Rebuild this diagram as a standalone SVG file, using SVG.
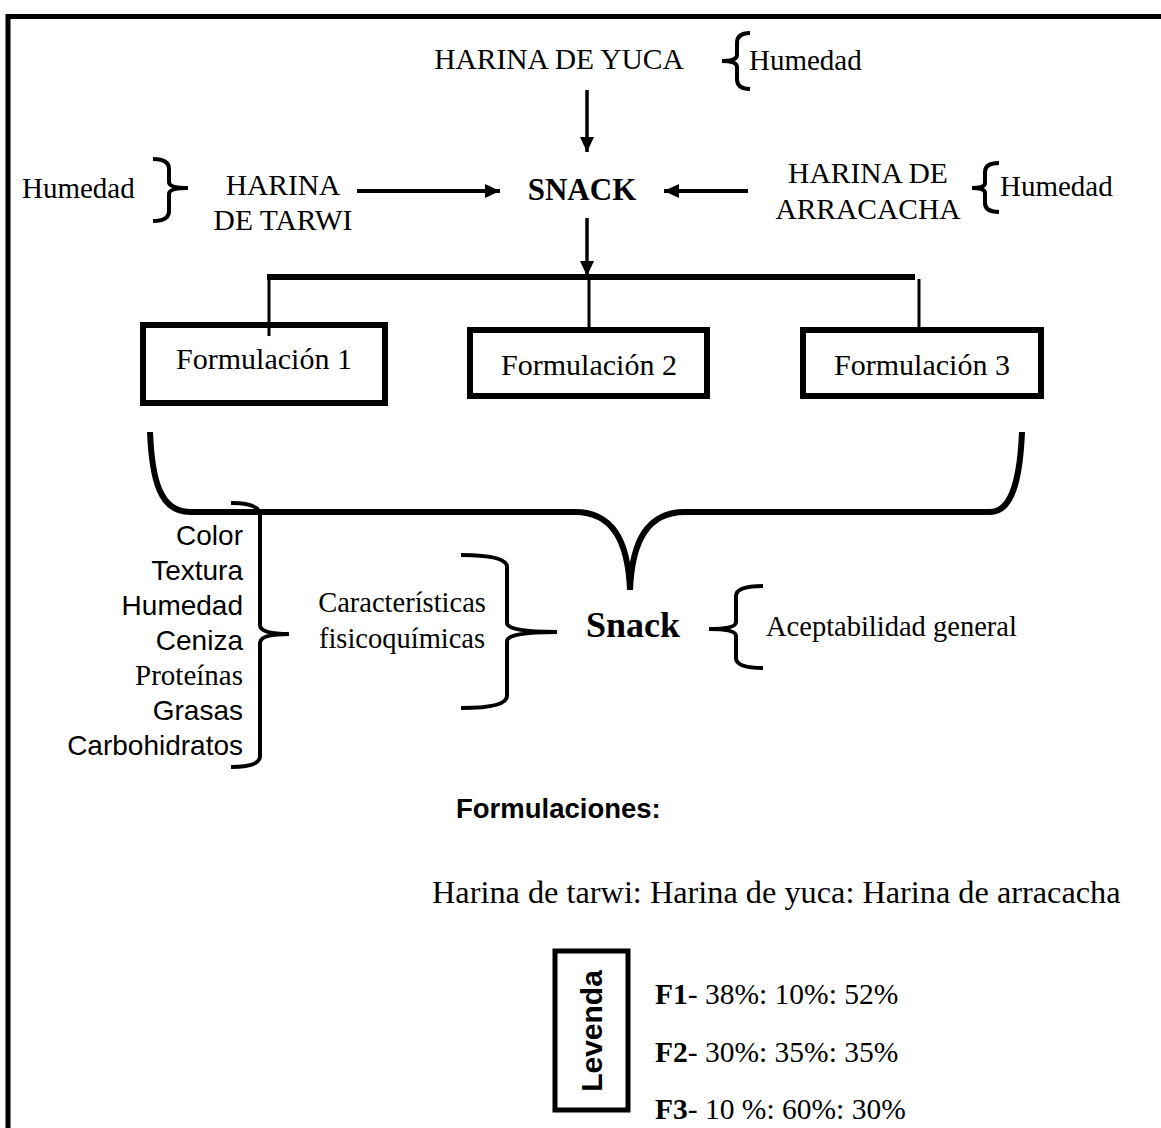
<svg xmlns="http://www.w3.org/2000/svg" width="1161" height="1128" viewBox="0 0 1161 1128">
<defs>
<style>
.t{font-family:"Liberation Serif","Times New Roman",serif;fill:#000}
.a{font-family:"Liberation Sans",Arial,sans-serif;fill:#000}
.ln{stroke:#000;fill:none}
.box{fill:#fff;stroke:#000;stroke-width:6}
</style>
<marker id="ah" markerWidth="15" markerHeight="14" refX="15" refY="7" orient="auto" markerUnits="userSpaceOnUse">
<path d="M0,0 L15,7 L0,14 Z" fill="#000"/>
</marker>
</defs>
<rect width="1161" height="1128" fill="#fff"/>
<g id="frame">
<path class="ln" d="M8,1128 L8,16.5 L1161,16.5" stroke-width="5"/>
</g>
<g id="yuca">
<text class="t" x="559" y="69" font-size="29.5" text-anchor="middle">HARINA DE YUCA</text>
<path class="ln" stroke-width="4" d="M750,33 Q737,33 737,43 L737,55 Q737,61 722,61 Q737,61 737,67 L737,79 Q737,89 750,89"/>
<text class="t" x="749" y="70" font-size="29">Humedad</text>
</g>
<g id="tarwi">
<text class="t" x="22" y="198" font-size="29">Humedad</text>
<path class="ln" stroke-width="4" d="M153,159 Q169,159 169,169 L169,182 Q169,188 188,188 Q169,188 169,194 L169,211 Q169,221 153,221"/>
<text class="t" x="283" y="195" font-size="29.5" text-anchor="middle">HARINA</text>
<text class="t" x="283" y="230" font-size="29.5" text-anchor="middle">DE TARWI</text>
</g>
<g id="snack-top">
<text class="t" x="582" y="200" font-size="31" font-weight="bold" text-anchor="middle">SNACK</text>
</g>
<g id="arracacha">
<text class="t" x="868" y="183" font-size="29.5" text-anchor="middle">HARINA DE</text>
<text class="t" x="868" y="219" font-size="29.5" text-anchor="middle">ARRACACHA</text>
<path class="ln" stroke-width="4" d="M999,163 Q985,163 985,172 L985,183 Q985,188 972,188 Q985,188 985,193 L985,203 Q985,212 999,212"/>
<text class="t" x="1000" y="196" font-size="29">Humedad</text>
</g>
<g id="f1"><rect class="box" x="143" y="325" width="242" height="78"/><text class="t" x="264" y="369" font-size="30" text-anchor="middle">Formulación 1</text></g>
<g id="f2"><rect class="box" x="470" y="330" width="237" height="66"/><text class="t" x="589" y="375" font-size="30" text-anchor="middle">Formulación 2</text></g>
<g id="f3"><rect class="box" x="803" y="330" width="238" height="66"/><text class="t" x="922" y="375" font-size="30" text-anchor="middle">Formulación 3</text></g>
<g id="connectors">
<line class="ln" stroke-width="3.5" x1="587" y1="90" x2="587" y2="152" marker-end="url(#ah)"/>
<line class="ln" stroke-width="4" x1="357" y1="191" x2="500" y2="191" marker-end="url(#ah)"/>
<line class="ln" stroke-width="4" x1="748" y1="191" x2="664" y2="191" marker-end="url(#ah)"/>
<line class="ln" stroke-width="3.5" x1="587" y1="218" x2="587" y2="276" marker-end="url(#ah)"/>
<line class="ln" stroke-width="6" x1="267" y1="277" x2="915" y2="277"/>
<line class="ln" stroke-width="3" x1="269" y1="277" x2="269" y2="336"/>
<line class="ln" stroke-width="3" x1="589" y1="277" x2="589" y2="333"/>
<line class="ln" stroke-width="3" x1="919" y1="279" x2="919" y2="331"/>
<path class="ln" stroke-width="6" d="M150,432 C152,480 160,512 190,512 L575,512 C612,512 628,540 630,590 C632,540 648,512 685,512 L990,512 C1012,512 1020,480 1022,432"/>
</g>
<g id="lista">
<text class="a" x="243" y="545" font-size="28" text-anchor="end">Color</text>
<text class="a" x="243" y="580" font-size="28" text-anchor="end">Textura</text>
<text class="a" x="243" y="615" font-size="28" text-anchor="end">Humedad</text>
<text class="a" x="243" y="650" font-size="28" text-anchor="end">Ceniza</text>
<text class="t" x="243" y="685" font-size="29" text-anchor="end">Proteínas</text>
<text class="a" x="243" y="720" font-size="28" text-anchor="end">Grasas</text>
<text class="a" x="243" y="755" font-size="28" text-anchor="end">Carbohidratos</text>
<path class="ln" stroke-width="4" d="M231,503 Q260,503 260,515 L260,625 Q260,634 289,634 Q260,634 260,643 L260,756 Q260,767 231,767"/>
</g>
<g id="caracteristicas">
<text class="t" x="402" y="612" font-size="28.5" text-anchor="middle">Características</text>
<text class="t" x="402" y="648" font-size="28.5" text-anchor="middle">fisicoquímicas</text>
<path class="ln" stroke-width="4" d="M461,555 Q507,555 507,567 L507,623 Q507,632 557,632 Q507,632 507,641 L507,696 Q507,708 461,708"/>
</g>
<g id="snack">
<text class="t" x="633" y="637" font-size="36" font-weight="bold" text-anchor="middle">Snack</text>
</g>
<g id="aceptabilidad">
<path class="ln" stroke-width="4" d="M763,586 Q736,586 736,596 L736,622 Q736,629 709,629 Q736,629 736,636 L736,658 Q736,668 763,668"/>
<text class="t" x="766" y="636" font-size="28.5">Aceptabilidad general</text>
</g>
<g id="formulaciones">
<text class="a" x="456" y="818" font-size="27.5" font-weight="bold">Formulaciones:</text>
<text class="t" x="432" y="903" font-size="32.3">Harina de tarwi: Harina de yuca: Harina de arracacha</text>
</g>
<g id="leyenda">
<rect x="555" y="951" width="73" height="159" fill="#fff" stroke="#000" stroke-width="5"/>
<text class="a" transform="translate(602,1031) rotate(-90)" font-size="30" font-weight="bold" text-anchor="middle">Levenda</text>
<text class="t" x="655" y="1004" font-size="29.5"><tspan font-weight="bold">F1</tspan>- 38%: 10%: 52%</text>
<text class="t" x="655" y="1062" font-size="29.5"><tspan font-weight="bold">F2</tspan>- 30%: 35%: 35%</text>
<text class="t" x="655" y="1119" font-size="29.5"><tspan font-weight="bold">F3</tspan>- 10 %: 60%: 30%</text>
</g>
</svg>
